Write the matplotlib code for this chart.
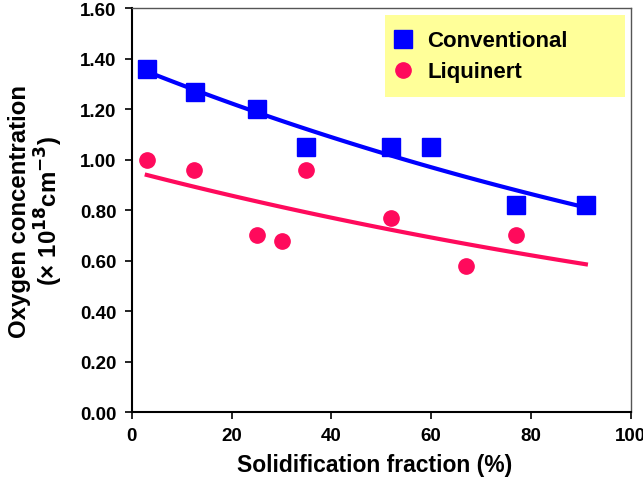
import numpy as np
import matplotlib
matplotlib.use("Agg")
import matplotlib.pyplot as plt
from matplotlib.patches import Rectangle

plt.rcParams['font.family'] = ['Liberation Sans', 'DejaVu Sans']
plt.rcParams['font.weight'] = 'bold'
plt.rcParams['mathtext.default'] = 'bf'

# solidification fraction (%) and oxygen concentration (x 1e18 cm^-3)
conv_x = [3, 12.6, 25, 35, 52, 60, 77, 91]
conv_y = [1.36, 1.27, 1.20, 1.05, 1.05, 1.05, 0.82, 0.82]
liq_x = [3, 12.4, 25, 30, 35, 52, 67, 77]
liq_y = [1.00, 0.96, 0.70, 0.68, 0.96, 0.77, 0.58, 0.70]

blue = '#0000FF'
pink = '#FF0A5C'


def exp_fit(x, y, xs):
    """exponential trend line, fitted on log(y)"""
    k, b = np.polyfit(x, np.log(y), 1)
    return np.exp(b + k * xs)


fig = plt.figure(figsize=(6.43, 4.85), dpi=100)
ax = fig.add_axes([0.205, 0.148, 0.776, 0.833])

xs = np.linspace(3, 91, 100)
ax.plot(xs, exp_fit(conv_x, conv_y, xs), color=blue, lw=3, zorder=2)
ax.plot(xs, exp_fit(liq_x, liq_y, xs), color=pink, lw=3, zorder=2)
ax.plot(conv_x, conv_y, 's', color=blue, ms=12.5, label='Conventional', zorder=3)
ax.plot(liq_x, liq_y, 'o', color=pink, ms=11, label='Liquinert', zorder=3)

ax.set_xlim(0, 100)
ax.set_ylim(0, 1.6)
ax.set_xticks(np.arange(0, 101, 20))
ax.set_yticks(np.arange(0, 1.61, 0.2))
ax.set_yticklabels([f'{v:.2f}' for v in np.arange(0, 1.61, 0.2)])
ax.tick_params(labelsize=13.5, length=5, width=1.2, direction='out', pad=6)
for s in ['left', 'bottom']:
    ax.spines[s].set_linewidth(1.5)
for s in ['top', 'right']:
    ax.spines[s].set_color('#555555')
    ax.spines[s].set_linewidth(1)

ax.set_xlabel('Solidification fraction (%)', fontsize=16.5, fontweight='bold', labelpad=9)
ax.xaxis.set_label_coords(0.486, -0.1, transform=ax.transAxes)
ax.xaxis.label.set_va('top')
ax.set_ylabel('Oxygen concentration\n(× 10$^{18}$cm$^{-3}$)',
              fontsize=17.3, fontweight='bold', labelpad=11, linespacing=1.05)

# yellow legend panel
ax.add_patch(Rectangle((0.507, 0.78), 0.481, 0.203, transform=ax.transAxes,
                       facecolor='#FFFF99', edgecolor='none', zorder=4))
leg = ax.legend(loc='upper left', bbox_to_anchor=(0.516, 0.945), fontsize=16,
                frameon=False, borderpad=0, handletextpad=0.5,
                handlelength=1.2, labelspacing=0.45, borderaxespad=0)
leg.set_zorder(5)
for t in leg.get_texts():
    t.set_fontweight('bold')

fig.savefig('out.png', dpi=100)
